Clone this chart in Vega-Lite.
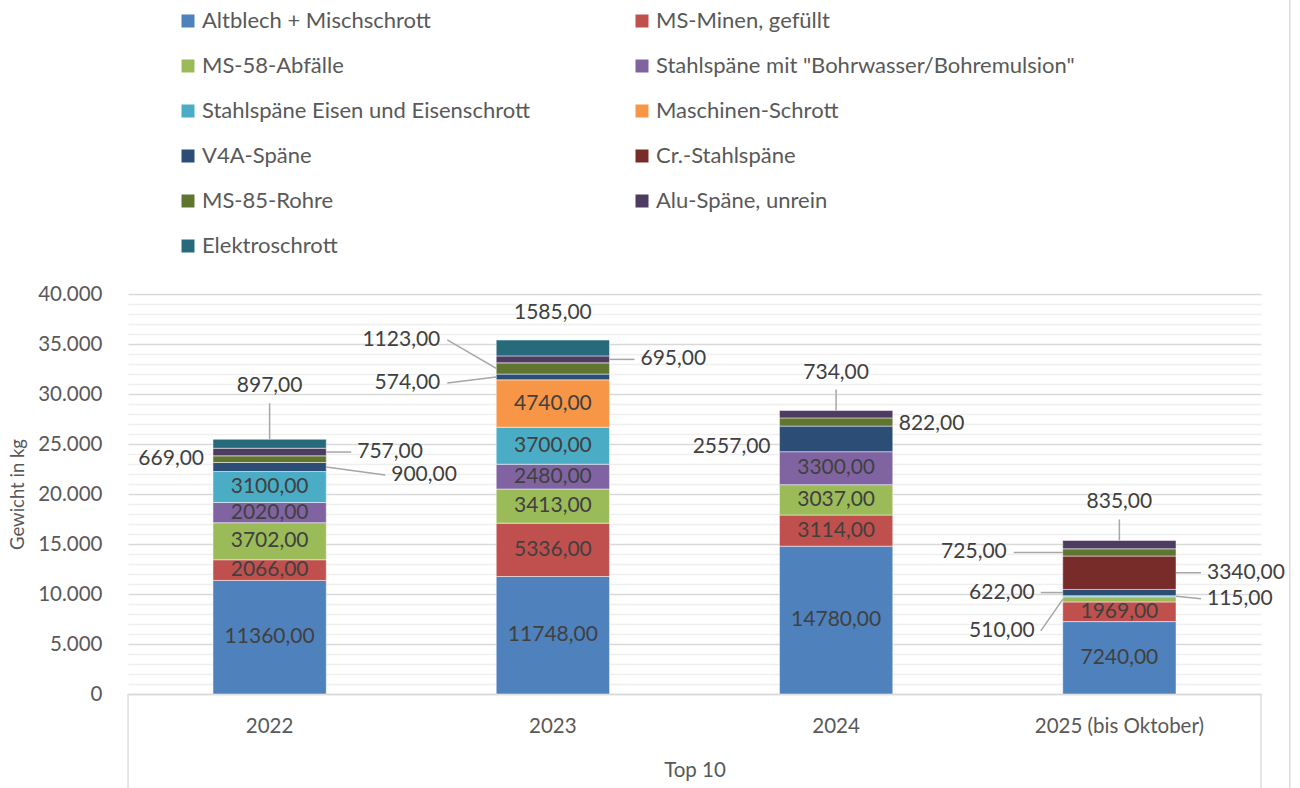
{
  "$schema": "https://vega.github.io/schema/vega-lite/v6.json",
  "width": 1133,
  "height": 400,
  "autosize": {"type": "none"},
  "padding": {"left": 128, "top": 294, "right": 39, "bottom": 94},
  "background": "#ffffff",
  "config": {"font": "Lato", "view": {"stroke": null}},
  "resolve": {"axis": {"y": "independent"}},
  "data": {
    "values": [
      {"year": "2022", "material": "Altblech + Mischschrott", "value": 11360},
      {"year": "2022", "material": "MS-Minen, gefüllt", "value": 2066},
      {"year": "2022", "material": "MS-58-Abfälle", "value": 3702},
      {"year": "2022", "material": "Stahlspäne mit \"Bohrwasser/Bohremulsion\"", "value": 2020},
      {"year": "2022", "material": "Stahlspäne Eisen und Eisenschrott", "value": 3100},
      {"year": "2022", "material": "V4A-Späne", "value": 900},
      {"year": "2022", "material": "MS-85-Rohre", "value": 669},
      {"year": "2022", "material": "Alu-Späne, unrein", "value": 757},
      {"year": "2022", "material": "Elektroschrott", "value": 897},
      {"year": "2023", "material": "Altblech + Mischschrott", "value": 11748},
      {"year": "2023", "material": "MS-Minen, gefüllt", "value": 5336},
      {"year": "2023", "material": "MS-58-Abfälle", "value": 3413},
      {"year": "2023", "material": "Stahlspäne mit \"Bohrwasser/Bohremulsion\"", "value": 2480},
      {"year": "2023", "material": "Stahlspäne Eisen und Eisenschrott", "value": 3700},
      {"year": "2023", "material": "Maschinen-Schrott", "value": 4740},
      {"year": "2023", "material": "V4A-Späne", "value": 574},
      {"year": "2023", "material": "MS-85-Rohre", "value": 1123},
      {"year": "2023", "material": "Alu-Späne, unrein", "value": 695},
      {"year": "2023", "material": "Elektroschrott", "value": 1585},
      {"year": "2024", "material": "Altblech + Mischschrott", "value": 14780},
      {"year": "2024", "material": "MS-Minen, gefüllt", "value": 3114},
      {"year": "2024", "material": "MS-58-Abfälle", "value": 3037},
      {"year": "2024", "material": "Stahlspäne mit \"Bohrwasser/Bohremulsion\"", "value": 3300},
      {"year": "2024", "material": "V4A-Späne", "value": 2557},
      {"year": "2024", "material": "MS-85-Rohre", "value": 822},
      {"year": "2024", "material": "Alu-Späne, unrein", "value": 734},
      {"year": "2025 (bis Oktober)", "material": "Altblech + Mischschrott", "value": 7240},
      {"year": "2025 (bis Oktober)", "material": "MS-Minen, gefüllt", "value": 1969},
      {"year": "2025 (bis Oktober)", "material": "MS-58-Abfälle", "value": 510},
      {"year": "2025 (bis Oktober)", "material": "Stahlspäne Eisen und Eisenschrott", "value": 115},
      {"year": "2025 (bis Oktober)", "material": "V4A-Späne", "value": 622},
      {"year": "2025 (bis Oktober)", "material": "Cr.-Stahlspäne", "value": 3340},
      {"year": "2025 (bis Oktober)", "material": "MS-85-Rohre", "value": 725},
      {"year": "2025 (bis Oktober)", "material": "Alu-Späne, unrein", "value": 835}
    ]
  },
  "transform": [
    {"calculate": "indexof(['Altblech + Mischschrott','MS-Minen, gefüllt','MS-58-Abfälle','Stahlspäne mit \"Bohrwasser/Bohremulsion\"','Stahlspäne Eisen und Eisenschrott','Maschinen-Schrott','V4A-Späne','Cr.-Stahlspäne','MS-85-Rohre','Alu-Späne, unrein','Elektroschrott'], datum.material)", "as": "k"},
    {"stack": "value", "groupby": ["year"], "sort": [{"field": "k", "order": "ascending"}], "as": ["s0", "s1"]},
    {"calculate": "(datum.s0 + datum.s1) / 2", "as": "mid"},
    {"joinaggregate": [{"op": "max", "field": "s1", "as": "top"}], "groupby": ["year"]},
    {"calculate": "datum.year + '|' + datum.material", "as": "key"},
    {"calculate": "replace(format(datum.value, '.2f'), '.', ',')", "as": "lbl"},
    {"calculate": "datum.key === '2022|V4A-Späne' ? -800 : datum.key === '2023|MS-85-Rohre' ? 2850 : datum.key === '2023|V4A-Späne' ? -600 : datum.key === '2024|V4A-Späne' ? -800 : datum.key === '2024|MS-85-Rohre' ? -200 : datum.key === '2025 (bis Oktober)|Stahlspäne Eisen und Eisenschrott' ? -250 : datum.key === '2025 (bis Oktober)|MS-58-Abfälle' ? -3150 : datum.key === '2022|Elektroschrott' ? 1500 : datum.key === '2023|Elektroschrott' ? -1100 : 0", "as": "shift"},
    {"calculate": "(datum.s1 === datum.top ? datum.s1 : datum.mid) + datum.shift", "as": "ly"},
    {"calculate": "datum.s1 === datum.top ? 'top' : (datum.value >= 1900 && datum.material !== 'V4A-Späne' && datum.material !== 'Cr.-Stahlspäne') ? 'in' : indexof(['2022|MS-85-Rohre','2024|V4A-Späne'], datum.key) >= 0 ? 'ln' : indexof(['2024|MS-85-Rohre'], datum.key) >= 0 ? 'rn' : datum.key === '2022|V4A-Späne' ? 'rf2' : indexof(['2022|Alu-Späne, unrein','2023|Alu-Späne, unrein','2025 (bis Oktober)|Cr.-Stahlspäne','2025 (bis Oktober)|Stahlspäne Eisen und Eisenschrott'], datum.key) >= 0 ? 'rf' : indexof(['2025 (bis Oktober)|V4A-Späne','2025 (bis Oktober)|MS-58-Abfälle'], datum.key) >= 0 ? 'lf2' : 'lf'", "as": "pos"}
  ],
  "encoding": {
    "x": {
      "field": "year",
      "type": "nominal",
      "sort": null,
      "scale": {"paddingInner": 0.6, "paddingOuter": 0.3},
      "axis": {
        "title": "Top 10",
        "labelAngle": 0,
        "labelFontSize": 20.5,
        "labelColor": "#595959",
        "labelPadding": 22,
        "ticks": false,
        "grid": false,
        "domainColor": "#d9d9d9",
        "domainWidth": 1.3,
        "titleFontSize": 20.5,
        "titleFontWeight": "normal",
        "titleColor": "#595959",
        "titlePadding": 24
      }
    }
  },
  "layer": [
    {
      "mark": {"type": "bar", "stroke": "#ffffff", "strokeWidth": 0.7, "strokeOpacity": 0.7},
      "encoding": {
        "y": {
          "field": "s0",
          "type": "quantitative",
          "scale": {"domain": [0, 40000], "nice": false},
          "axis": {
            "orient": "left",
            "values": [0,1000,2000,3000,4000,5000,6000,7000,8000,9000,10000,11000,12000,13000,14000,15000,16000,17000,18000,19000,20000,21000,22000,23000,24000,25000,26000,27000,28000,29000,30000,31000,32000,33000,34000,35000,36000,37000,38000,39000,40000],
            "grid": true,
            "gridColor": {"condition": {"test": "datum.value % 5000 === 0", "value": "#d9d9d9"}, "value": "#efefef"},
            "gridWidth": 1.3,
            "domain": false,
            "ticks": false,
            "labelExpr": "datum.value % 5000 === 0 ? replace(format(datum.value, ',d'), ',', '.') : ''",
            "labelOverlap": false,
            "labelFontSize": 20.5,
            "labelColor": "#595959",
            "labelPadding": 26,
            "title": "Gewicht in kg",
            "titleFontSize": 18.5,
            "titleFontWeight": "normal",
            "titleColor": "#595959",
            "titlePadding": 10
          }
        },
        "y2": {"field": "s1"},
        "color": {
          "field": "material",
          "type": "nominal",
          "scale": {
            "domain": ["Altblech + Mischschrott","MS-Minen, gefüllt","MS-58-Abfälle","Stahlspäne mit \"Bohrwasser/Bohremulsion\"","Stahlspäne Eisen und Eisenschrott","Maschinen-Schrott","V4A-Späne","Cr.-Stahlspäne","MS-85-Rohre","Alu-Späne, unrein","Elektroschrott"],
            "range": ["#4f81bd","#c0504d","#9bbb59","#8064a2","#4bacc6","#f79646","#2c4d75","#772c2a","#5f7530","#4d3b62","#276a7c"]
          },
          "legend": {
            "orient": "none",
            "legendX": 49,
            "legendY": -284,
            "direction": "horizontal",
            "columns": 2,
            "title": null,
            "symbolType": "square",
            "symbolSize": 169,
            "symbolStrokeWidth": 0,
            "labelFontSize": 22,
            "labelColor": "#595959",
            "labelOffset": 3,
            "labelLimit": 700,
            "rowPadding": 23,
            "columnPadding": 100,
            "padding": 0
          }
        }
      }
    },
    {
      "transform": [{"filter": "datum.pos === 'in'"}],
      "mark": {"type": "text", "fontSize": 21, "color": "#404040", "baseline": "middle"},
      "encoding": {
        "y": {"field": "mid", "type": "quantitative", "scale": {"domain": [0, 40000], "nice": false}, "axis": null},
        "text": {"field": "lbl"}
      }
    },
    {
      "transform": [{"filter": "datum.pos === 'top'"}],
      "mark": {"type": "text", "fontSize": 21, "color": "#404040", "baseline": "middle", "dy": -38},
      "encoding": {
        "y": {"field": "ly", "type": "quantitative", "scale": {"domain": [0, 40000], "nice": false}, "axis": null},
        "text": {"field": "lbl"}
      }
    },
    {
      "transform": [{"filter": "datum.pos === 'top' && datum.year !== '2023'"}],
      "mark": {"type": "rule", "color": "#a6a6a6", "strokeWidth": 1.5, "y2Offset": -21},
      "encoding": {
        "y": {"field": "s1", "type": "quantitative", "scale": {"domain": [0, 40000], "nice": false}, "axis": null},
        "y2": {"field": "ly"}
      }
    },
    {
      "transform": [{"filter": "datum.pos === 'ln'"}],
      "mark": {"type": "text", "fontSize": 21, "color": "#404040", "baseline": "middle", "align": "right", "dx": -65.6},
      "encoding": {
        "y": {"field": "ly", "type": "quantitative", "scale": {"domain": [0, 40000], "nice": false}, "axis": null},
        "text": {"field": "lbl"}
      }
    },
    {
      "transform": [{"filter": "datum.pos === 'lf'"}],
      "mark": {"type": "text", "fontSize": 21, "color": "#404040", "baseline": "middle", "align": "right", "dx": -112.6},
      "encoding": {
        "y": {"field": "ly", "type": "quantitative", "scale": {"domain": [0, 40000], "nice": false}, "axis": null},
        "text": {"field": "lbl"}
      }
    },
    {
      "transform": [{"filter": "datum.pos === 'lf'"}],
      "mark": {"type": "rule", "color": "#a6a6a6", "strokeWidth": 1.5, "xOffset": -56.6, "x2Offset": -105.6},
      "encoding": {
        "x2": {"field": "year"},
        "y": {"field": "mid", "type": "quantitative", "scale": {"domain": [0, 40000], "nice": false}, "axis": null},
        "y2": {"field": "ly"}
      }
    },
    {
      "transform": [{"filter": "datum.pos === 'lf2'"}],
      "mark": {"type": "text", "fontSize": 21, "color": "#404040", "baseline": "middle", "align": "right", "dx": -84.6},
      "encoding": {
        "y": {"field": "ly", "type": "quantitative", "scale": {"domain": [0, 40000], "nice": false}, "axis": null},
        "text": {"field": "lbl"}
      }
    },
    {
      "transform": [{"filter": "datum.pos === 'lf2'"}],
      "mark": {"type": "rule", "color": "#a6a6a6", "strokeWidth": 1.5, "xOffset": -56.6, "x2Offset": -78.6},
      "encoding": {
        "x2": {"field": "year"},
        "y": {"field": "mid", "type": "quantitative", "scale": {"domain": [0, 40000], "nice": false}, "axis": null},
        "y2": {"field": "ly"}
      }
    },
    {
      "transform": [{"filter": "datum.pos === 'rn'"}],
      "mark": {"type": "text", "fontSize": 21, "color": "#404040", "baseline": "middle", "align": "left", "dx": 62.6},
      "encoding": {
        "y": {"field": "ly", "type": "quantitative", "scale": {"domain": [0, 40000], "nice": false}, "axis": null},
        "text": {"field": "lbl"}
      }
    },
    {
      "transform": [{"filter": "datum.pos === 'rf'"}],
      "mark": {"type": "text", "fontSize": 21, "color": "#404040", "baseline": "middle", "align": "left", "dx": 87.6},
      "encoding": {
        "y": {"field": "ly", "type": "quantitative", "scale": {"domain": [0, 40000], "nice": false}, "axis": null},
        "text": {"field": "lbl"}
      }
    },
    {
      "transform": [{"filter": "datum.pos === 'rf'"}],
      "mark": {"type": "rule", "color": "#a6a6a6", "strokeWidth": 1.5, "xOffset": 56.6, "x2Offset": 81.6},
      "encoding": {
        "x2": {"field": "year"},
        "y": {"field": "mid", "type": "quantitative", "scale": {"domain": [0, 40000], "nice": false}, "axis": null},
        "y2": {"field": "ly"}
      }
    },
    {
      "transform": [{"filter": "datum.pos === 'rf2'"}],
      "mark": {"type": "text", "fontSize": 21, "color": "#404040", "baseline": "middle", "align": "left", "dx": 121.6},
      "encoding": {
        "y": {"field": "ly", "type": "quantitative", "scale": {"domain": [0, 40000], "nice": false}, "axis": null},
        "text": {"field": "lbl"}
      }
    },
    {
      "transform": [{"filter": "datum.pos === 'rf2'"}],
      "mark": {"type": "rule", "color": "#a6a6a6", "strokeWidth": 1.5, "xOffset": 56.6, "x2Offset": 115.6},
      "encoding": {
        "x2": {"field": "year"},
        "y": {"field": "mid", "type": "quantitative", "scale": {"domain": [0, 40000], "nice": false}, "axis": null},
        "y2": {"field": "ly"}
      }
    },
    {
      "transform": [{"filter": "datum.year === '2022' && datum.k === 0"}],
      "mark": {"type": "rule", "color": "#d9d9d9", "strokeWidth": 1.3, "xOffset": -141.6, "y2Offset": 94},
      "encoding": {
        "y": {"datum": 0, "type": "quantitative", "scale": {"domain": [0, 40000], "nice": false}, "axis": null},
        "y2": {"datum": 0}
      }
    },
    {
      "transform": [{"filter": "datum.year === '2025 (bis Oktober)' && datum.k === 0"}],
      "mark": {"type": "rule", "color": "#d9d9d9", "strokeWidth": 1.3, "xOffset": 141.6, "y2Offset": 94},
      "encoding": {
        "y": {"datum": 0, "type": "quantitative", "scale": {"domain": [0, 40000], "nice": false}, "axis": null},
        "y2": {"datum": 0}
      }
    },
    {
      "transform": [{"filter": "datum.year === '2025 (bis Oktober)' && datum.k === 0"}],
      "mark": {"type": "rule", "color": "#d9d9d9", "strokeWidth": 1.3, "xOffset": 170.4, "yOffset": -294, "y2Offset": 94},
      "encoding": {
        "y": {"datum": 40000, "type": "quantitative", "scale": {"domain": [0, 40000], "nice": false}, "axis": null},
        "y2": {"datum": 0}
      }
    }
  ]
}
